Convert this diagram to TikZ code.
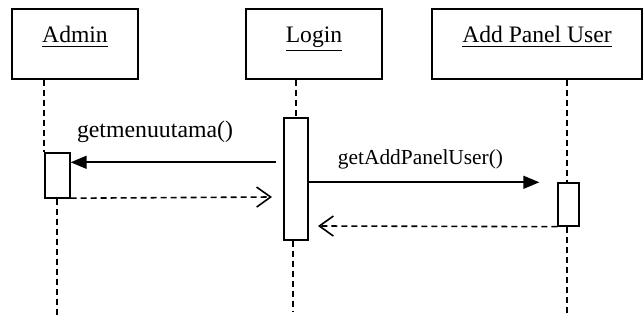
\documentclass[tikz,border=0pt]{standalone}
\usepackage{fontspec}
\setmainfont{Liberation Serif}
\usetikzlibrary{arrows.meta,calc}
\tikzset{
  header/.style={draw, line width=0.7pt, minimum height=35pt, inner sep=0pt,
    text height=8pt, text depth=9pt, font=\fontsize{11.8}{14}\selectfont},
  act/.style={draw, line width=0.7pt, fill=white, inner sep=0pt},
  life/.style={line width=0.9pt, dash pattern=on 3pt off 2pt},
  msg/.style={line width=0.8pt, -{Triangle[length=8pt,width=6.5pt]}},
  ret/.style={line width=0.8pt, dash pattern=on 3pt off 2pt, -{Straight Barb[length=7pt,width=10pt,line width=0.8pt]}},
  lbl/.style={anchor=base, inner sep=0pt}
}
\begin{document}
\begin{tikzpicture}[x=0.5pt,y=-0.5pt]
\useasboundingbox (0,0) rectangle (643,320);
% headers
\node[header, minimum width=63pt] (admin) at (75,44) {\underline{Admin}};
\node[header, minimum width=68pt] (login) at (314,44) {\underline{Login}};
\node[header, minimum width=105pt] (addp) at (537,44) {\underline{Add Panel User}};
% activations
\node[act, minimum width=12.5pt, minimum height=22.5pt] (adminact) at (57.5,175.5) {};
\node[act, minimum width=12pt, minimum height=61pt] (loginact) at (296,179) {};
\node[act, minimum width=10.5pt, minimum height=21.5pt] (addact) at (568.5,204.5) {};
% lifeline ends
\coordinate (adminend) at (57,318);
\coordinate (loginend) at (293,312);
\coordinate (addend) at (567,313);
% lifelines
\draw[life] (admin.south -| adminact.west) -- (adminact.north west);
\draw[life] ($(adminact.south)+(-0.5,0)$) -- (adminend);
\draw[life] (login.south -| loginact.north) -- (loginact.north);
\draw[life] (loginact.south -| loginend) -- (loginend);
\draw[life] (addp.south -| addend) -- (addact.north -| addend);
\draw[life] (addact.south -| addend) -- (addend);
% messages
\coordinate (r1end) at (272,197);
\coordinate (r2end) at (318,226);
\draw[msg] ($(adminact.north east -| loginact.west)+(-7,10)$) -- ($(adminact.north east)+(0,10)$);
\node[lbl, font=\fontsize{11.9}{14}\selectfont] (lgm) at (155,138) {getmenuutama()};
\draw[ret] ($(adminact.south east)+(0,-0.5)$) -- (r1end);
\draw[msg] (loginact.east |- addact.north) -- ($(addact.north west)+(-18,0)$);
\node[lbl, font=\fontsize{10.7}{13}\selectfont] (lga) at (420.5,165) {getAddPanelUser()};
\draw[ret] (addact.south west) -- (r2end);
\end{tikzpicture}
\end{document}
